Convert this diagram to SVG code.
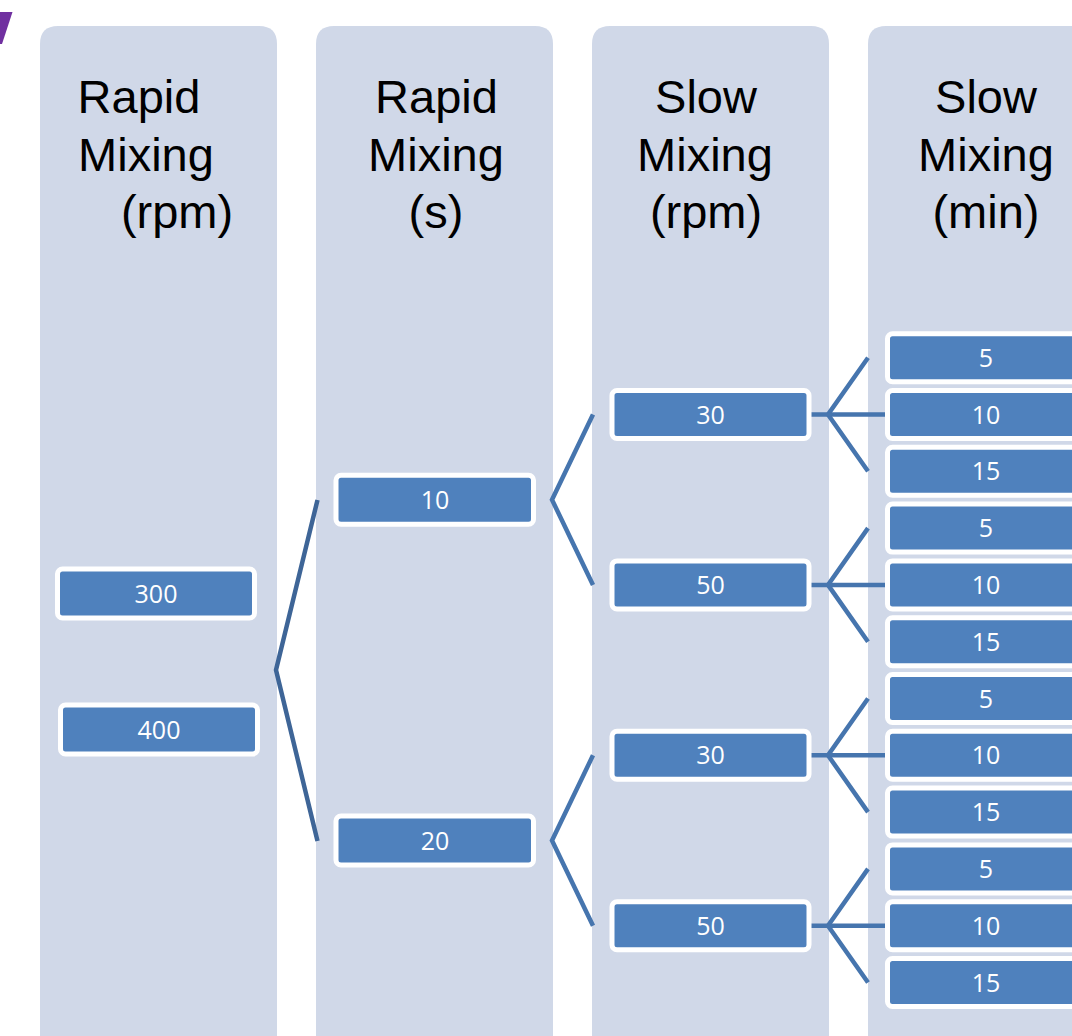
<svg xmlns="http://www.w3.org/2000/svg" width="1072" height="1036" viewBox="0 0 1072 1036">
  <style>
    .col { fill: #D0D8E8; }
    .head { font-family: "Liberation Sans", Arial, sans-serif; font-size: 47px; fill: #000; text-anchor: middle; }
    .box { fill: #4F81BD; stroke: #FFFFFF; stroke-width: 5; }
    .lbl { font-family: "Open Sans", "Noto Sans", sans-serif; font-size: 25px; fill: #FFFFFF; text-anchor: middle; }
    .wire { fill: none; stroke: #4675AE; stroke-width: 4.5; stroke-linejoin: miter; }
    .wire.dark { stroke: #3E6597; }
  </style>
  <defs>
    <!-- column background: rounded top corners, runs off the bottom -->
    <path id="colShape" d="M0,44 Q0,26 18,26 H219 Q237,26 237,44 V1050 H0 Z"/>
  </defs>

  <rect width="1072" height="1036" fill="#FFFFFF"/>

  <!-- corner accent -->
  <polygon points="0,12 12.5,12 2,44 0,44" fill="#7030A0"/>

  <!-- columns -->
  <g id="columns">
    <use href="#colShape" class="col" x="40" y="0"/>
    <use href="#colShape" class="col" x="316" y="0"/>
    <use href="#colShape" class="col" x="592" y="0"/>
    <use href="#colShape" class="col" x="868" y="0"/>
  </g>

  <!-- column headings -->
  <g id="head-rapid-rpm">
    <text class="head" x="139" y="113">Rapid</text>
    <text class="head" x="146" y="170.5">Mixing</text>
    <text class="head" x="177" y="228">(rpm)</text>
  </g>
  <g id="head-rapid-s">
    <text class="head" x="436.5" y="113">Rapid</text>
    <text class="head" x="436" y="170.5">Mixing</text>
    <text class="head" x="436" y="228">(s)</text>
  </g>
  <g id="head-slow-rpm">
    <text class="head" x="706" y="113">Slow</text>
    <text class="head" x="705" y="170.5">Mixing</text>
    <text class="head" x="706" y="228">(rpm)</text>
  </g>
  <g id="head-slow-min">
    <text class="head" x="986" y="113">Slow</text>
    <text class="head" x="986" y="170.5">Mixing</text>
    <text class="head" x="986" y="228">(min)</text>
  </g>

  <!-- connectors -->
  <g id="connectors">
    <polyline class="wire dark" points="317.5,500 276,670 317.5,841"/>
    <polyline class="wire" points="593,414.5 552,499.7 593,585"/>
    <polyline class="wire" points="593,755.3 552,840.5 593,925.7"/>

    <polyline class="wire" points="868,357.7 828,414.5 868,471.3"/>
    <line class="wire" x1="809" y1="414.5" x2="886" y2="414.5"/>
    <polyline class="wire" points="868,528.1 828,584.9 868,641.7"/>
    <line class="wire" x1="809" y1="584.9" x2="886" y2="584.9"/>
    <polyline class="wire" points="868,698.5 828,755.3 868,812.1"/>
    <line class="wire" x1="809" y1="755.3" x2="886" y2="755.3"/>
    <polyline class="wire" points="868,868.9 828,925.7 868,982.5"/>
    <line class="wire" x1="809" y1="925.7" x2="886" y2="925.7"/>
  </g>

  <!-- rapid mixing speed -->
  <g id="n-rpm-300">
    <rect class="box" x="57.5" y="569" width="197" height="49" rx="5"/>
    <text class="lbl" x="156" y="602.5">300</text>
  </g>
  <g id="n-rpm-400">
    <rect class="box" x="60.5" y="705" width="197" height="49" rx="5"/>
    <text class="lbl" x="159" y="738.5">400</text>
  </g>

  <!-- rapid mixing time -->
  <g id="n-s-10">
    <rect class="box" x="336" y="475.2" width="197.5" height="49" rx="5"/>
    <text class="lbl" x="435" y="508.5">10</text>
  </g>
  <g id="n-s-20">
    <rect class="box" x="336" y="816" width="197.5" height="49" rx="5"/>
    <text class="lbl" x="435" y="849.5">20</text>
  </g>

  <!-- slow mixing speed -->
  <g id="n-slow-30a">
    <rect class="box" x="612" y="390.5" width="197" height="48" rx="5"/>
    <text class="lbl" x="710.5" y="423.5">30</text>
  </g>
  <g id="n-slow-50a">
    <rect class="box" x="612" y="560.9" width="197" height="48" rx="5"/>
    <text class="lbl" x="710.5" y="593.9">50</text>
  </g>
  <g id="n-slow-30b">
    <rect class="box" x="612" y="731.3" width="197" height="48" rx="5"/>
    <text class="lbl" x="710.5" y="764.3">30</text>
  </g>
  <g id="n-slow-50b">
    <rect class="box" x="612" y="901.7" width="197" height="48" rx="5"/>
    <text class="lbl" x="710.5" y="934.7">50</text>
  </g>

  <!-- slow mixing time -->
  <g id="n-min-5a"><rect class="box" x="887.5" y="333.7" width="200" height="48" rx="5"/><text class="lbl" x="986" y="366.7">5</text></g>
  <g id="n-min-10a"><rect class="box" x="887.5" y="390.5" width="200" height="48" rx="5"/><text class="lbl" x="986" y="423.5">10</text></g>
  <g id="n-min-15a"><rect class="box" x="887.5" y="447.3" width="200" height="48" rx="5"/><text class="lbl" x="986" y="480.3">15</text></g>
  <g id="n-min-5b"><rect class="box" x="887.5" y="504.1" width="200" height="48" rx="5"/><text class="lbl" x="986" y="537.1">5</text></g>
  <g id="n-min-10b"><rect class="box" x="887.5" y="560.9" width="200" height="48" rx="5"/><text class="lbl" x="986" y="593.9">10</text></g>
  <g id="n-min-15b"><rect class="box" x="887.5" y="617.7" width="200" height="48" rx="5"/><text class="lbl" x="986" y="650.7">15</text></g>
  <g id="n-min-5c"><rect class="box" x="887.5" y="674.5" width="200" height="48" rx="5"/><text class="lbl" x="986" y="707.5">5</text></g>
  <g id="n-min-10c"><rect class="box" x="887.5" y="731.3" width="200" height="48" rx="5"/><text class="lbl" x="986" y="764.3">10</text></g>
  <g id="n-min-15c"><rect class="box" x="887.5" y="788.1" width="200" height="48" rx="5"/><text class="lbl" x="986" y="821.1">15</text></g>
  <g id="n-min-5d"><rect class="box" x="887.5" y="844.9" width="200" height="48" rx="5"/><text class="lbl" x="986" y="877.9">5</text></g>
  <g id="n-min-10d"><rect class="box" x="887.5" y="901.7" width="200" height="48" rx="5"/><text class="lbl" x="986" y="934.7">10</text></g>
  <g id="n-min-15d"><rect class="box" x="887.5" y="958.5" width="200" height="48" rx="5"/><text class="lbl" x="986" y="991.5">15</text></g>
</svg>
